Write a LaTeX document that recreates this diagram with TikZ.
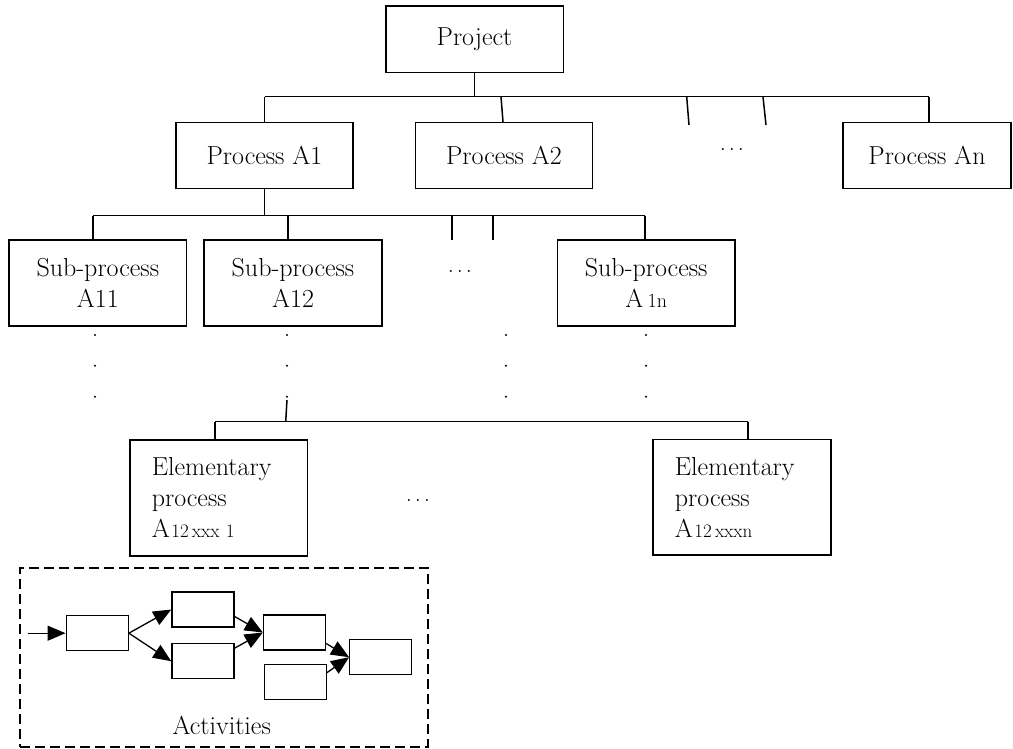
\documentclass[tikz,border=0pt]{standalone}
\usepackage{fontspec}
\usetikzlibrary{arrows.meta,calc}
\begin{document}
\begin{tikzpicture}[x=1pt,y=-1pt,
  lbl/.style={font=\fontsize{26}{31}\selectfont},
  gapdots/.style={font=\fontsize{21}{24}\selectfont, anchor=base},
  box/.style={draw, line width=1.6pt, inner sep=0pt, align=center, lbl},
  procbox/.style={box, minimum width=177pt, minimum height=66pt},
  subbox/.style={box, minimum width=177.6pt, minimum height=86pt},
  elembox/.style={box, align=left, text width=134pt, inner xsep=21.8pt, inner ysep=0pt,
    minimum width=177.6pt, minimum height=115.7pt},
  link/.style={line width=1.5pt},
  dotmark/.style={circle, fill, inner sep=0pt, minimum size=2.2pt},
  actbox/.style={draw, line width=1.3pt, minimum width=62pt, minimum height=35pt, inner sep=0pt},
  flow/.style={line width=1.3pt, -{Triangle[length=18pt,width=15pt]}},
  frame/.style={draw, line width=1.8pt, dash pattern=on 10pt off 5pt, inner sep=0pt}
]
\useasboundingbox (0,0) rectangle (1013,749);

% ---- top level ----
\node[box, minimum width=177.6pt, minimum height=66.7pt] (proj) at (474.5,39.3) {Project};

% ---- processes ----
\node[procbox] (pA1) at (264.5,155.7) {Process A1};
\node[procbox] (pA2) at (504,155.7) {Process A2};
\node[procbox, minimum width=168pt] (pAn) at (927,155.7) {Process An};
\node[gapdots] (gap1) at (732,151) {$\ldots$};

\coordinate (bus1) at (0,96.7);
\coordinate (s2) at (501,96.7);
\coordinate (f1a) at (686.7,96.7);
\coordinate (f1b) at (689,125);
\coordinate (f2a) at (763,96.7);
\coordinate (f2b) at (766,125);
\coordinate (sAn) at ([xshift=2pt]pAn.north);
\draw[link] (proj.south) -- (proj.south |- bus1);
\draw[link] (pA1.north |- bus1) -- (sAn |- bus1);
\draw[link] (pA1.north |- bus1) -- (pA1.north);
\draw[link] (s2) -- ([xshift=-1pt]pA2.north);
\draw[link] (f1a) -- (f1b);
\draw[link] (f2a) -- (f2b);
\draw[link] (sAn |- bus1) -- (sAn);

% ---- sub-processes ----
\node[subbox] (sA11) at (97.8,283) {Sub-process\\A11};
\node[subbox] (sA12) at (293,283) {Sub-process\\A12};
\node[subbox] (sA1n) at (646.2,283) {Sub-process\\A\,{\fontsize{20}{20}\selectfont 1n}};
\node[gapdots] (gap2) at (460,272.5) {$\ldots$};

\coordinate (bus2) at (0,215.7);
\coordinate (t11) at ([xshift=-4.8pt]sA11.north);
\coordinate (t12) at ([xshift=-5pt]sA12.north);
\coordinate (t1n) at ([xshift=-1.2pt]sA1n.north);
\coordinate (g1a) at (452,215.7);
\coordinate (g1b) at (452,240);
\coordinate (g2a) at (493,215.7);
\coordinate (g2b) at (493,240);
\draw[link] (pA1.south) -- (pA1.south |- bus2);
\draw[link] (t11 |- bus2) -- (t1n |- bus2);
\draw[link] (t11 |- bus2) -- (t11);
\draw[link] (t12 |- bus2) -- (t12);
\draw[link] (t1n |- bus2) -- (t1n);
\draw[link] (g1a) -- (g1b);
\draw[link] (g2a) -- (g2b);

% dotted continuation below the sub-processes
\foreach \cx [count=\i] in {95,287,506,646}
  \foreach \cy [count=\j] in {335,365.7,396.7}
    \node[dotmark] (d\i\j) at (\cx,\cy) {};

% ---- elementary processes ----
\node[elembox] (e1) at (218.8,497.85) {Elementary\\process\\A\kern1.5pt{\fontsize{19}{20}\selectfont 12\,xxx\,\,1}};
\node[elembox] (en) at (741.9,497.35) {Elementary\\process\\A\kern1.5pt{\fontsize{19}{20}\selectfont 12\,xxxn}};
\node[gapdots] (gap3) at (418,501) {$\ldots$};

\coordinate (bus3) at (0,421.7);
\coordinate (drop) at (287,400);
\coordinate (u1) at ([xshift=-3.8pt]e1.north);
\coordinate (un) at ([xshift=6pt]en.north);
\draw[link] (drop) -- (285.7,421.7);
\draw[link] (u1 |- bus3) -- (un |- bus3);
\draw[link] (u1 |- bus3) -- (u1);
\draw[link] (un |- bus3) -- (un);

% ---- activities ----
\node[frame, minimum width=407.7pt, minimum height=178.7pt] (actframe) at (223.85,657.35) {};
\node[lbl, anchor=base] (actlbl) at (221.7,734) {Activities};

\node[actbox] (a1) at (97.2,633.2) {};
\node[actbox] (a2) at (202.9,609.5) {};
\node[actbox] (a3) at (202.9,661.2) {};
\node[actbox] (a4) at (294.5,632.5) {};
\node[actbox] (a5) at (295.2,682.2) {};
\node[actbox] (a6) at (380.7,657.2) {};

\coordinate (entry) at (28.3,633.2);
\draw[flow] (entry) -- (a1.west);
\draw[flow] (a1.east) -- (a2.west);
\draw[flow] (a1.east) -- (a3.west);
\draw[flow] ([yshift=-7pt]a2.east) -- (a4.west);
\draw[flow] ([yshift=13pt]a3.east) -- (a4.west);
\draw[flow] ([yshift=-11pt]a4.east) -- (a6.west);
\draw[flow] ([yshift=9.5pt]a5.east) -- (a6.west);
\end{tikzpicture}
\end{document}
